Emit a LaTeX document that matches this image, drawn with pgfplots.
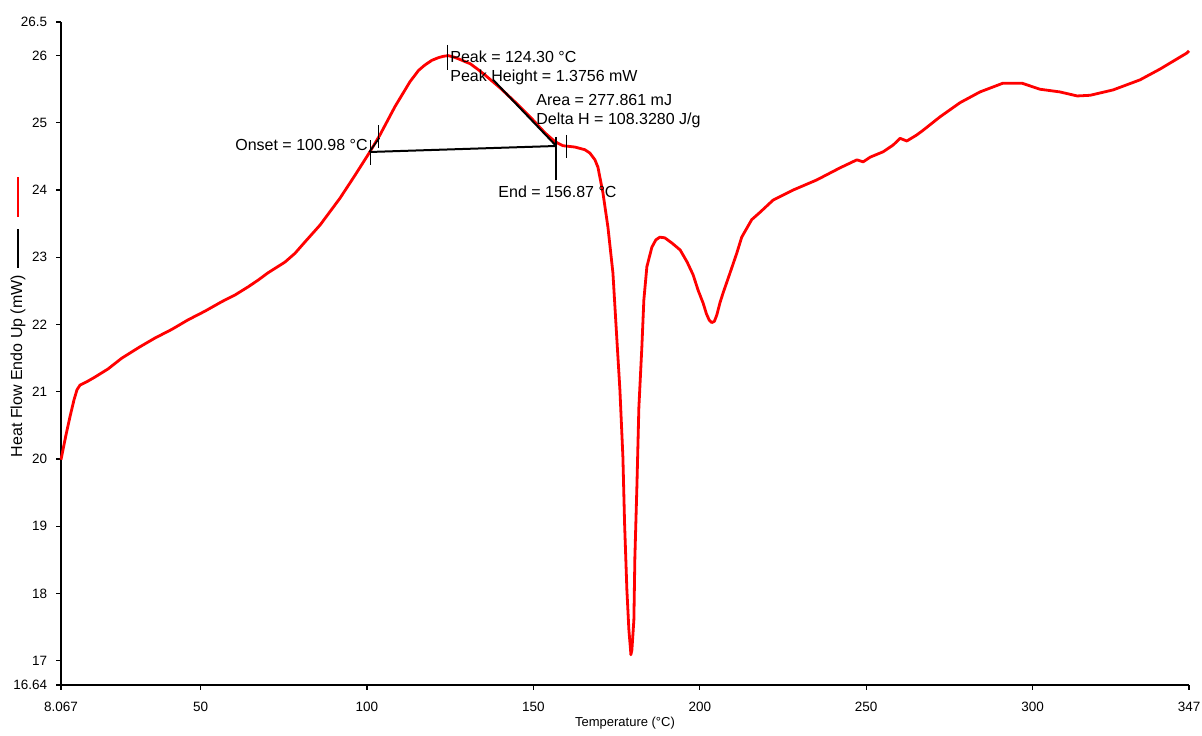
\documentclass[border=0pt]{standalone}
\usepackage{fontspec}
\setmainfont{Liberation Sans}
\usepackage{pgfplots}
\pgfplotsset{compat=1.18}
\pgfplotstableread{
x y
8.07 19.99
9.57 20.36
10.77 20.63
11.97 20.88
12.87 21.03
13.78 21.10
16.18 21.16
18.28 21.22
22.19 21.34
26.31 21.50
31.80 21.67
36.31 21.80
41.42 21.93
46.23 22.07
51.34 22.20
56.35 22.34
60.35 22.44
64.26 22.56
67.26 22.66
70.27 22.77
75.38 22.93
78.38 23.06
81.39 23.23
85.90 23.48
91.90 23.88
96.40 24.22
100.90 24.57
103.90 24.82
108.40 25.24
112.90 25.61
115.50 25.78
117.40 25.86
119.50 25.93
121.50 25.97
123.00 25.99
124.40 26.00
126.00 25.98
127.60 25.95
129.50 25.91
131.00 25.88
133.20 25.80
135.50 25.71
140.00 25.52
144.50 25.31
149.00 25.09
153.50 24.85
156.50 24.72
158.90 24.66
162.50 24.64
165.50 24.60
167.00 24.55
168.50 24.45
169.40 24.34
170.90 23.96
172.40 23.45
173.90 22.77
175.10 21.77
176.00 21.03
176.90 20.03
177.40 19.05
178.10 18.05
178.70 17.46
179.20 17.16
179.30 17.09
179.60 17.16
180.20 17.61
180.50 18.54
181.10 19.58
181.70 20.77
182.60 21.67
183.20 22.37
184.10 22.86
185.60 23.15
186.80 23.26
188.00 23.30
189.50 23.29
191.70 23.21
194.10 23.11
196.20 22.93
198.00 22.74
199.50 22.51
201.00 22.32
202.00 22.16
202.80 22.07
203.60 22.03
204.40 22.05
205.10 22.14
206.10 22.33
207.00 22.47
209.10 22.77
211.10 23.06
212.60 23.30
215.60 23.56
218.10 23.67
222.00 23.85
228.00 24.00
235.10 24.15
242.10 24.33
247.20 24.45
249.10 24.42
251.20 24.49
255.10 24.57
258.10 24.67
260.20 24.77
262.20 24.73
265.20 24.82
267.10 24.89
272.20 25.09
278.20 25.30
284.20 25.46
291.10 25.59
296.80 25.59
302.20 25.50
308.20 25.46
313.40 25.40
317.30 25.41
324.20 25.49
332.30 25.64
338.30 25.80
346.40 26.04
347.00 26.07
}\dsc
\begin{document}
\begin{tikzpicture}
\begin{axis}[
  at={(0,0)}, anchor=south west,
  scale only axis, width=564pt, height=331.5pt,
  xmin=8.067, xmax=347, ymin=16.64, ymax=26.5,
  axis lines=left, axis line style={-, line width=0.6pt},
  tick align=outside, major tick length=2.25pt,
  tick style={black, line width=0.6pt},
  xtick={8.067,50,100,150,200,250,300,347},
  xticklabels={8.067,50,100,150,200,250,300,347},
  ytick={16.64,17,18,19,20,21,22,23,24,25,26,26.5},
  yticklabels={16.64,17,18,19,20,21,22,23,24,25,26,26.5},
  tick label style={font=\fontsize{6.75}{7.5}\selectfont},
  xticklabel style={inner sep=0pt, anchor=center, yshift=-8.5pt},
  yticklabel style={inner sep=0pt, anchor=east, xshift=-4.5pt},
  /pgf/number format/assume math mode=true,
  xlabel={Temperature (°C)},
  xlabel style={at={(axis description cs:0.5,-0.057)}, anchor=center, font=\fontsize{6.5}{7.5}\selectfont},
  ylabel={Heat Flow Endo Up (mW)\hspace{3.5pt}\textcolor{black}{\rule[1.8pt]{19.5pt}{0.6pt}}\hspace{6pt}\textcolor{red}{\rule[1.5pt]{20pt}{1.1pt}}},
  ylabel style={at={(axis description cs:-0.0381,0.555)}, anchor=center, font=\fontsize{8}{9}\selectfont},
  clip=false,
]
\addplot[red, line width=1.4pt, line join=round] table[x=x,y=y] {\dsc};
% analysis construction lines
\addplot[black, line width=1pt] coordinates {(100.98,24.567) (156.87,24.656)};
\addplot[black, line width=1pt] coordinates {(156.87,24.656) (137.9,25.64)};
\addplot[black, line width=0.8pt] coordinates {(100.7,24.566) (103.7,24.774)};
\addplot[black, line width=0.5pt] coordinates {(100.98,24.745) (100.98,24.373)};
\addplot[black, line width=0.5pt] coordinates {(103.6,24.968) (103.6,24.626)};
\addplot[black, line width=0.5pt] coordinates {(124.30,26.158) (124.30,25.786)};
\addplot[black, line width=1pt] coordinates {(156.87,24.79) (156.87,24.15)};
\addplot[black, line width=0.5pt] coordinates {(160.0,24.82) (160.0,24.48)};
\node[anchor=west, inner sep=0pt, font=\fontsize{8}{9}\selectfont] at (axis cs:124.95,25.98) {Peak = 124.30 °C};
\node[anchor=west, inner sep=0pt, font=\fontsize{8}{9}\selectfont] at (axis cs:124.95,25.68) {Peak Height = 1.3756 mW};
\node[anchor=west, inner sep=0pt, font=\fontsize{8}{9}\selectfont] at (axis cs:150.8,25.34) {Area = 277.861 mJ};
\node[anchor=west, inner sep=0pt, font=\fontsize{8}{9}\selectfont] at (axis cs:150.8,25.03) {Delta H = 108.3280 J/g};
\node[anchor=east, inner sep=0pt, font=\fontsize{8}{9}\selectfont] at (axis cs:100.31,24.67) {Onset = 100.98 °C};
\node[anchor=west, inner sep=0pt, font=\fontsize{8}{9}\selectfont] at (axis cs:139.4,23.97) {End = 156.87 °C};
\end{axis}
\path[use as bounding box] (-30.5pt,-23pt) rectangle (570.5pt,342.5pt);
\end{tikzpicture}
\end{document}
